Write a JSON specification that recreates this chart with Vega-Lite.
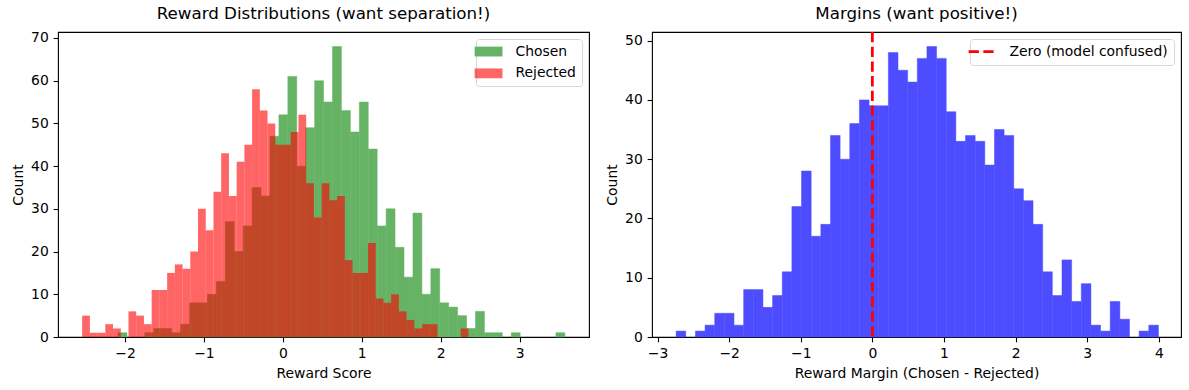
{
  "$schema": "https://vega.github.io/schema/vega-lite/v6.json",
  "background": "white",
  "padding": {"left": 10, "top": 5, "right": 5, "bottom": 5},
  "spacing": 14,
  "datasets": {
    "scores": [
      {"series": "Chosen", "start": -2.088, "end": -1.9748, "count": 1},
      {"series": "Chosen", "start": -1.7483, "end": -1.635, "count": 1},
      {"series": "Chosen", "start": -1.635, "end": -1.5218, "count": 2},
      {"series": "Chosen", "start": -1.5218, "end": -1.4086, "count": 2},
      {"series": "Chosen", "start": -1.4086, "end": -1.2953, "count": 1},
      {"series": "Chosen", "start": -1.2953, "end": -1.1821, "count": 3},
      {"series": "Chosen", "start": -1.1821, "end": -1.0688, "count": 8},
      {"series": "Chosen", "start": -1.0688, "end": -0.9556, "count": 8},
      {"series": "Chosen", "start": -0.9556, "end": -0.8424, "count": 10},
      {"series": "Chosen", "start": -0.8424, "end": -0.7291, "count": 13},
      {"series": "Chosen", "start": -0.7291, "end": -0.6159, "count": 27},
      {"series": "Chosen", "start": -0.6159, "end": -0.5026, "count": 20},
      {"series": "Chosen", "start": -0.5026, "end": -0.3894, "count": 26},
      {"series": "Chosen", "start": -0.3894, "end": -0.2762, "count": 35},
      {"series": "Chosen", "start": -0.2762, "end": -0.1629, "count": 33},
      {"series": "Chosen", "start": -0.1629, "end": -0.0497, "count": 47},
      {"series": "Chosen", "start": -0.0497, "end": 0.0636, "count": 52},
      {"series": "Chosen", "start": 0.0636, "end": 0.1768, "count": 61},
      {"series": "Chosen", "start": 0.1768, "end": 0.29, "count": 40},
      {"series": "Chosen", "start": 0.29, "end": 0.4033, "count": 49},
      {"series": "Chosen", "start": 0.4033, "end": 0.5165, "count": 60},
      {"series": "Chosen", "start": 0.5165, "end": 0.6298, "count": 55},
      {"series": "Chosen", "start": 0.6298, "end": 0.743, "count": 68},
      {"series": "Chosen", "start": 0.743, "end": 0.8562, "count": 53},
      {"series": "Chosen", "start": 0.8562, "end": 0.9695, "count": 48},
      {"series": "Chosen", "start": 0.9695, "end": 1.0827, "count": 55},
      {"series": "Chosen", "start": 1.0827, "end": 1.196, "count": 44},
      {"series": "Chosen", "start": 1.196, "end": 1.3092, "count": 26},
      {"series": "Chosen", "start": 1.3092, "end": 1.4224, "count": 30},
      {"series": "Chosen", "start": 1.4224, "end": 1.5357, "count": 21},
      {"series": "Chosen", "start": 1.5357, "end": 1.6489, "count": 14},
      {"series": "Chosen", "start": 1.6489, "end": 1.7622, "count": 29},
      {"series": "Chosen", "start": 1.7622, "end": 1.8754, "count": 10},
      {"series": "Chosen", "start": 1.8754, "end": 1.9886, "count": 16},
      {"series": "Chosen", "start": 1.9886, "end": 2.1019, "count": 8},
      {"series": "Chosen", "start": 2.1019, "end": 2.2151, "count": 7},
      {"series": "Chosen", "start": 2.2151, "end": 2.3284, "count": 5},
      {"series": "Chosen", "start": 2.3284, "end": 2.4416, "count": 2},
      {"series": "Chosen", "start": 2.4416, "end": 2.5548, "count": 6},
      {"series": "Chosen", "start": 2.5548, "end": 2.6681, "count": 1},
      {"series": "Chosen", "start": 2.6681, "end": 2.7813, "count": 1},
      {"series": "Chosen", "start": 2.8946, "end": 3.0078, "count": 1},
      {"series": "Chosen", "start": 3.4608, "end": 3.574, "count": 1},
      {"series": "Rejected", "start": -2.543, "end": -2.4451, "count": 5},
      {"series": "Rejected", "start": -2.4451, "end": -2.3472, "count": 1},
      {"series": "Rejected", "start": -2.3472, "end": -2.2493, "count": 1},
      {"series": "Rejected", "start": -2.2493, "end": -2.1514, "count": 3},
      {"series": "Rejected", "start": -2.1514, "end": -2.0535, "count": 2},
      {"series": "Rejected", "start": -1.9556, "end": -1.8577, "count": 6},
      {"series": "Rejected", "start": -1.8577, "end": -1.7598, "count": 5},
      {"series": "Rejected", "start": -1.7598, "end": -1.6619, "count": 3},
      {"series": "Rejected", "start": -1.6619, "end": -1.564, "count": 11},
      {"series": "Rejected", "start": -1.564, "end": -1.4661, "count": 11},
      {"series": "Rejected", "start": -1.4661, "end": -1.3682, "count": 15},
      {"series": "Rejected", "start": -1.3682, "end": -1.2703, "count": 17},
      {"series": "Rejected", "start": -1.2703, "end": -1.1724, "count": 16},
      {"series": "Rejected", "start": -1.1724, "end": -1.0745, "count": 20},
      {"series": "Rejected", "start": -1.0745, "end": -0.9766, "count": 30},
      {"series": "Rejected", "start": -0.9766, "end": -0.8787, "count": 25},
      {"series": "Rejected", "start": -0.8787, "end": -0.7808, "count": 34},
      {"series": "Rejected", "start": -0.7808, "end": -0.6829, "count": 43},
      {"series": "Rejected", "start": -0.6829, "end": -0.585, "count": 33},
      {"series": "Rejected", "start": -0.585, "end": -0.4871, "count": 41},
      {"series": "Rejected", "start": -0.4871, "end": -0.3892, "count": 45},
      {"series": "Rejected", "start": -0.3892, "end": -0.2913, "count": 58},
      {"series": "Rejected", "start": -0.2913, "end": -0.1934, "count": 53},
      {"series": "Rejected", "start": -0.1934, "end": -0.0955, "count": 50},
      {"series": "Rejected", "start": -0.0955, "end": 0.0024, "count": 45},
      {"series": "Rejected", "start": 0.0024, "end": 0.1003, "count": 45},
      {"series": "Rejected", "start": 0.1003, "end": 0.1982, "count": 48},
      {"series": "Rejected", "start": 0.1982, "end": 0.2961, "count": 52},
      {"series": "Rejected", "start": 0.2961, "end": 0.394, "count": 36},
      {"series": "Rejected", "start": 0.394, "end": 0.4919, "count": 28},
      {"series": "Rejected", "start": 0.4919, "end": 0.5898, "count": 36},
      {"series": "Rejected", "start": 0.5898, "end": 0.6877, "count": 32},
      {"series": "Rejected", "start": 0.6877, "end": 0.7856, "count": 33},
      {"series": "Rejected", "start": 0.7856, "end": 0.8835, "count": 18},
      {"series": "Rejected", "start": 0.8835, "end": 0.9814, "count": 15},
      {"series": "Rejected", "start": 0.9814, "end": 1.0793, "count": 15},
      {"series": "Rejected", "start": 1.0793, "end": 1.1772, "count": 22},
      {"series": "Rejected", "start": 1.1772, "end": 1.2751, "count": 9},
      {"series": "Rejected", "start": 1.2751, "end": 1.373, "count": 8},
      {"series": "Rejected", "start": 1.373, "end": 1.4709, "count": 10},
      {"series": "Rejected", "start": 1.4709, "end": 1.5688, "count": 6},
      {"series": "Rejected", "start": 1.5688, "end": 1.6667, "count": 4},
      {"series": "Rejected", "start": 1.6667, "end": 1.7646, "count": 2},
      {"series": "Rejected", "start": 1.7646, "end": 1.8625, "count": 3},
      {"series": "Rejected", "start": 1.8625, "end": 1.9604, "count": 3},
      {"series": "Rejected", "start": 2.2541, "end": 2.352, "count": 2}
    ],
    "margins": [
      {"start": -2.74, "end": -2.6053, "count": 1},
      {"start": -2.4706, "end": -2.3359, "count": 1},
      {"start": -2.3359, "end": -2.2012, "count": 2},
      {"start": -2.2012, "end": -2.0665, "count": 4},
      {"start": -2.0665, "end": -1.9318, "count": 4},
      {"start": -1.9318, "end": -1.7971, "count": 2},
      {"start": -1.7971, "end": -1.6624, "count": 8},
      {"start": -1.6624, "end": -1.5277, "count": 8},
      {"start": -1.5277, "end": -1.393, "count": 5},
      {"start": -1.393, "end": -1.2583, "count": 7},
      {"start": -1.2583, "end": -1.1236, "count": 11},
      {"start": -1.1236, "end": -0.9889, "count": 22},
      {"start": -0.9889, "end": -0.8542, "count": 28},
      {"start": -0.8542, "end": -0.7195, "count": 17},
      {"start": -0.7195, "end": -0.5848, "count": 19},
      {"start": -0.5848, "end": -0.4501, "count": 34},
      {"start": -0.4501, "end": -0.3154, "count": 30},
      {"start": -0.3154, "end": -0.1807, "count": 36},
      {"start": -0.1807, "end": -0.046, "count": 40},
      {"start": -0.046, "end": 0.0887, "count": 39},
      {"start": 0.0887, "end": 0.2234, "count": 39},
      {"start": 0.2234, "end": 0.3581, "count": 48},
      {"start": 0.3581, "end": 0.4928, "count": 45},
      {"start": 0.4928, "end": 0.6275, "count": 43},
      {"start": 0.6275, "end": 0.7622, "count": 47},
      {"start": 0.7622, "end": 0.8969, "count": 49},
      {"start": 0.8969, "end": 1.0316, "count": 47},
      {"start": 1.0316, "end": 1.1663, "count": 38},
      {"start": 1.1663, "end": 1.301, "count": 33},
      {"start": 1.301, "end": 1.4357, "count": 34},
      {"start": 1.4357, "end": 1.5704, "count": 33},
      {"start": 1.5704, "end": 1.7051, "count": 29},
      {"start": 1.7051, "end": 1.8398, "count": 35},
      {"start": 1.8398, "end": 1.9745, "count": 34},
      {"start": 1.9745, "end": 2.1092, "count": 25},
      {"start": 2.1092, "end": 2.2439, "count": 23},
      {"start": 2.2439, "end": 2.3786, "count": 19},
      {"start": 2.3786, "end": 2.5133, "count": 11},
      {"start": 2.5133, "end": 2.648, "count": 7},
      {"start": 2.648, "end": 2.7827, "count": 13},
      {"start": 2.7827, "end": 2.9174, "count": 6},
      {"start": 2.9174, "end": 3.0521, "count": 9},
      {"start": 3.0521, "end": 3.1868, "count": 2},
      {"start": 3.1868, "end": 3.3215, "count": 1},
      {"start": 3.3215, "end": 3.4562, "count": 6},
      {"start": 3.4562, "end": 3.5909, "count": 3},
      {"start": 3.7256, "end": 3.8603, "count": 1},
      {"start": 3.8603, "end": 3.995, "count": 2}
    ],
    "zero": [
      {"x": 0, "label": "Zero (model confused)"}
    ]
  },
  "hconcat": [
    {
      "width": 531,
      "height": 305,
      "title": {"text": "Reward Distributions (want separation!)"},
      "data": {"name": "scores"},
      "mark": {"type": "bar", "strokeWidth": 0.5},
      "encoding": {
        "x": {
          "field": "start", "type": "quantitative",
          "scale": {"domain": [-2.849, 3.88], "nice": false, "zero": false},
          "axis": {"title": "Reward Score", "values": [-2, -1, 0, 1, 2, 3], "format": "d"}
        },
        "x2": {"field": "end"},
        "y": {
          "field": "count", "type": "quantitative", "stack": null,
          "scale": {"domain": [0, 71.4], "nice": false},
          "axis": {"title": "Count", "values": [0, 10, 20, 30, 40, 50, 60, 70]}
        },
        "y2": {"datum": 0},
        "color": {
          "field": "series", "type": "nominal",
          "scale": {"domain": ["Chosen", "Rejected"], "range": ["#66b366", "#ff0000"]},
          "legend": {
            "title": null, "orient": "top-right", "offset": 7,
            "symbolType": "M-2.83,-1H2.83V1H-2.83Z", "symbolSize": 97,
            "symbolStrokeWidth": 0,
            "labelOffset": 20, "rowPadding": 6.8, "padding": 5.6,
            "fillColor": "rgba(255,255,255,0.8)", "strokeColor": "#d6d6d6", "cornerRadius": 3,
            "encode": {
              "symbols": {"update": {"opacity": {"signal": "datum.value === 'Rejected' ? 0.6 : 1"}}}
            }
          }
        },
        "stroke": {
          "field": "series", "type": "nominal",
          "scale": {"domain": ["Chosen", "Rejected"], "range": ["#66b366", "transparent"]},
          "legend": null
        },
        "opacity": {
          "field": "series", "type": "nominal",
          "scale": {"domain": ["Chosen", "Rejected"], "range": [1, 0.6]},
          "legend": null
        }
      }
    },
    {
      "width": 529,
      "height": 305,
      "title": {"text": "Margins (want positive!)"},
      "layer": [
        {
          "data": {"name": "margins"},
          "mark": {"type": "bar", "fill": "#4d4dff", "stroke": "#4d4dff", "strokeWidth": 0.5, "opacity": 1},
          "encoding": {
            "x": {
              "field": "start", "type": "quantitative",
              "scale": {"domain": [-3.077, 4.31], "nice": false, "zero": false},
              "axis": {"title": "Reward Margin (Chosen - Rejected)", "values": [-3, -2, -1, 0, 1, 2, 3, 4], "format": "d"}
            },
            "x2": {"field": "end"},
            "y": {
              "field": "count", "type": "quantitative",
              "scale": {"domain": [0, 51.45], "nice": false},
              "axis": {"title": "Count", "values": [0, 10, 20, 30, 40, 50]}
            },
            "y2": {"datum": 0}
          }
        },
        {
          "data": {"name": "zero"},
          "mark": {"type": "rule", "strokeWidth": 2.78, "strokeDash": [10.3, 4.4]},
          "encoding": {
            "x": {"field": "x", "type": "quantitative", "scale": {"domain": [-3.077, 4.31], "nice": false, "zero": false}},
            "color": {
              "field": "label", "type": "nominal",
              "scale": {"range": ["#ff0000"]},
              "legend": {
                "title": null, "orient": "top-right", "offset": 7,
                "symbolType": "M-2.83,0H2.83", "symbolSize": 97,
                "symbolStrokeWidth": 2.78, "symbolDash": [10.3, 4.4],
                "labelOffset": 20, "padding": 5.6,
                "fillColor": "rgba(255,255,255,0.8)", "strokeColor": "#d6d6d6", "cornerRadius": 3
              }
            }
          }
        }
      ]
    }
  ],
  "resolve": {"scale": {"color": "independent"}, "legend": {"color": "independent"}},
  "config": {
    "font": "DejaVu Sans",
    "view": {"stroke": "black", "strokeWidth": 1.1},
    "axis": {
      "domain": false, "grid": false,
      "tickColor": "black", "tickWidth": 1.1, "tickSize": 4.86,
      "labelPadding": 4.86, "labelFont": "DejaVu Sans", "labelFontSize": 13.9, "labelColor": "black",
      "labelFlush": false, "labelOverlap": false,
      "titleFont": "DejaVu Sans", "titleFontSize": 13.9, "titleFontWeight": "normal", "titleColor": "black",
      "titlePadding": 5.6
    },
    "legend": {
      "labelFont": "DejaVu Sans", "labelFontSize": 13.9, "labelColor": "black"
    },
    "title": {
      "font": "DejaVu Sans", "fontSize": 16.7, "fontWeight": "normal", "color": "black",
      "anchor": "middle", "frame": "group", "offset": 8.3
    }
  }
}
